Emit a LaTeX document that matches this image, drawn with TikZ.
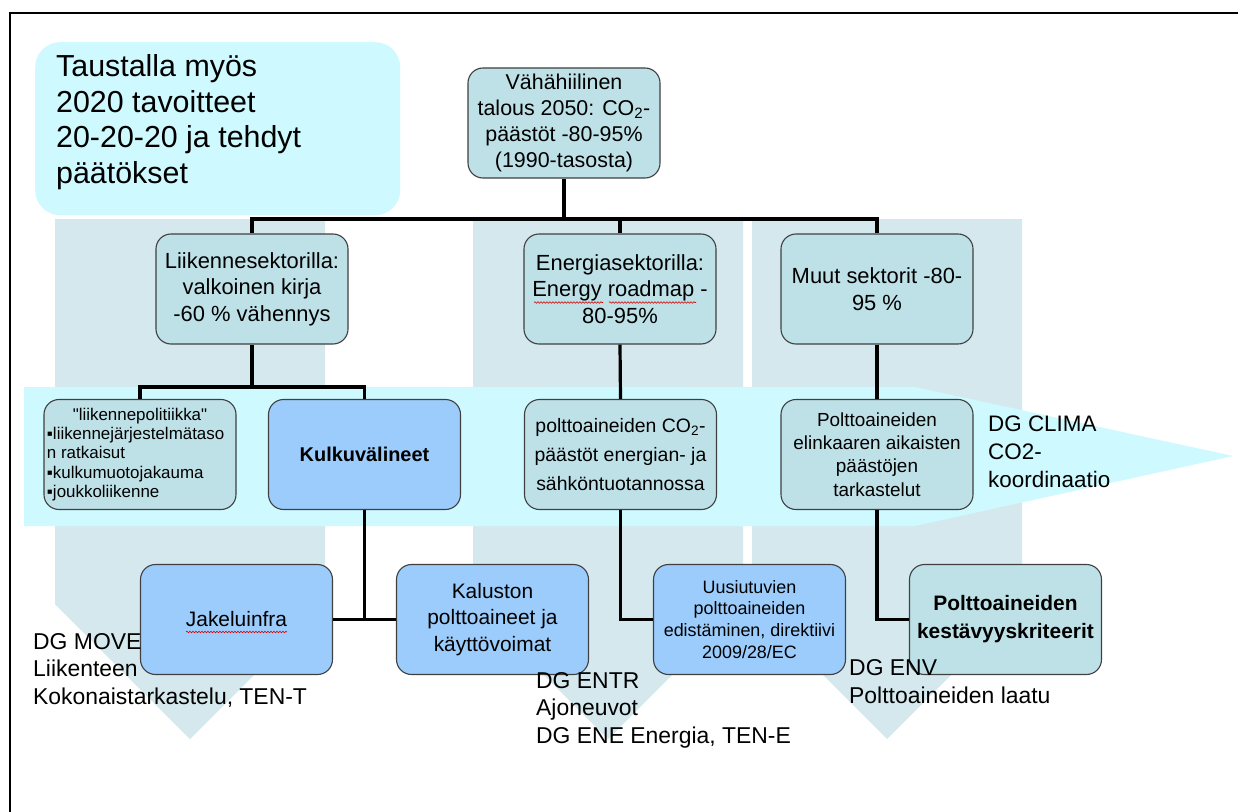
\documentclass[tikz,border=0pt]{standalone}
\usepackage{fontspec}
\setmainfont{Liberation Sans}
\newfontfamily\nomapfont{Liberation Sans}
\usetikzlibrary{decorations.pathmorphing}
\definecolor{chev}{RGB}{212,232,238}
\definecolor{cyanband}{RGB}{206,249,254}
\definecolor{tealfill}{RGB}{190,225,232}
\definecolor{bluefill}{RGB}{155,204,252}
\definecolor{edgegray}{RGB}{64,64,64}
\newcommand\fsz[2]{\fontsize{#1}{#2}\selectfont}
\newcommand\sq{{\nomapfont\char"22}}
\begin{document}
\begin{tikzpicture}[x=1bp,y=-1bp,
  box/.style={draw=edgegray, line width=1.1bp, rounded corners=15bp, fill=tealfill,
    minimum width=192bp, minimum height=110bp, inner sep=2bp, align=center},
  bluebox/.style={box, fill=bluefill},
  conn/.style={line width=3.2bp, black},
  lbl/.style={inner sep=0pt, anchor=base west, align=left, font=\fsz{23}{27.5}},
  squig/.style={red!85!black, line width=0.6bp, decorate,
    decoration={snake, amplitude=0.8bp, segment length=3bp}},
]
\useasboundingbox (0,0) rectangle (1238,812);
\fill[white] (0,0) rectangle (1238,812);
% frame
\draw[line width=2bp] (10,812) -- (10,13) -- (1238,13);
% background context box (text anchor = baseline of the last line)
\node[fill=cyanband, rounded corners=25bp, minimum width=365bp, minimum height=173bp,
  inner sep=0pt, anchor=north west] (ctxbox) at (35,42) {};
\node[inner sep=0pt, anchor=base west, align=left, font=\fsz{30.5}{35.5}] (ctx) at (56,183)
  {Taustalla myös\\2020 tavoitteet\\20-20-20 ja tehdyt\\päätökset};
% chevrons
\fill[chev] (55,219) -- (325,219) -- (325,604) -- (190,739) -- (55,604) -- cycle;
\fill[chev] (473,219) -- (743,219) -- (743,604) -- (608,739) -- (473,604) -- cycle;
\fill[chev] (752,219) -- (1022,219) -- (1022,604) -- (887,739) -- (752,604) -- cycle;
% horizontal band arrow
\fill[cyanband] (24,387) -- (915,387) -- (1233,456) -- (915,526) -- (24,526) -- cycle;

% nodes
\node[box, font=\fsz{21.5}{26}] (top) at (564,123)
  {Vähähiilinen\\talous 2050: CO\textsubscript{2}-\\päästöt -80-95\%\\(1990-tasosta)};
\node[box, font=\fsz{22}{26.5}] (liik) at (252,289)
  {Liikennesektorilla:\\valkoinen kirja\\-60 \% vähennys};
\node[box, font=\fsz{22}{26.5}] (ener) at (620,289)
  {Energiasektorilla:\\Energy roadmap -\\80-95\%};
\node[box, font=\fsz{22}{26.5}] (muut) at (877,289)
  {Muut sektorit -80-\\95 \%};

\node[box, align=left, font=\fsz{17}{19.5}] (pol) at (140,454.5)
  {\hbox to 186bp{\hfil\sq liikennepolitiikka\sq\hfil}\\▪liikennejärjestelmätaso\\n ratkaisut\\▪kulkumuotojakauma\\▪joukkoliikenne};
\node[bluebox, font=\bfseries\fsz{20}{24}] (kulku) at (364.5,454.5) {Kulkuvälineet};
\node[box, font=\fsz{19.5}{29.5}] (co2) at (620.5,454.5)
  {polttoaineiden CO\textsubscript{2}-\\päästöt energian- ja\\sähköntuotannossa};
\node[box, font=\fsz{19}{23.5}] (elin) at (877,454.5)
  {Polttoaineiden\\elinkaaren aikaisten\\päästöjen\\tarkastelut};

\node[bluebox, font=\fsz{21}{26}] (jak) at (236.5,619.5) {Jakeluinfra};
\node[bluebox, font=\fsz{21}{27}] (kal) at (492.5,619.5)
  {Kaluston\\polttoaineet ja\\käyttövoimat};
\node[bluebox, font=\fsz{18}{22}] (uus) at (749.5,619.5)
  {Uusiutuvien\\polttoaineiden\\edistäminen, direktiivi\\2009/28/EC};
\node[box, font=\bfseries\fsz{21}{28}] (kest) at (1005.5,619.5)
  {Polttoaineiden\\kestävyyskriteerit};

% connectors
\coordinate (bus) at (564,219);
\coordinate (lbus) at (252,387);
\draw[conn] (top.south) -- (bus);
\draw[conn] (liik.north) -- (liik.north |- bus) -- (muut.north |- bus) -- (muut.north);
\draw[conn] (ener.north) -- (ener.north |- bus);
\draw[conn] (liik.south) -- (lbus);
\draw[conn] (pol.north) -- (pol.north |- lbus) -- (kulku.north |- lbus) -- (kulku.north);
\draw[conn] (ener.south) -- (co2.north);
\draw[conn] (muut.south) -- (elin.north);
\draw[conn] (kulku.south) -- (kulku.south |- jak.east);
\draw[conn] (jak.east) -- (kal.west);
\draw[conn] (co2.south) |- (uus.west);
\draw[conn] (elin.south) |- (kest.west);

% spell-check squiggles
\draw[squig] (534,302.5) -- (603,302.5);
\draw[squig] (609,302.5) -- (696,302.5);
\draw[squig] (186,632) -- (287,632);

% labels (anchor = baseline of the last line)
\node[lbl] (move) at (33,704) {DG MOVE\\Liikenteen\\Kokonaistarkastelu, TEN-T};
\node[lbl] (entr) at (536,743) {DG ENTR\\Ajoneuvot\\DG ENE Energia, TEN-E};
\node[lbl] (env) at (849,703) {DG ENV\\Polttoaineiden laatu};
\node[lbl, font=\fsz{22.5}{28}] (clima) at (988,487) {DG CLIMA\\CO2-\\koordinaatio};
\end{tikzpicture}
\end{document}
